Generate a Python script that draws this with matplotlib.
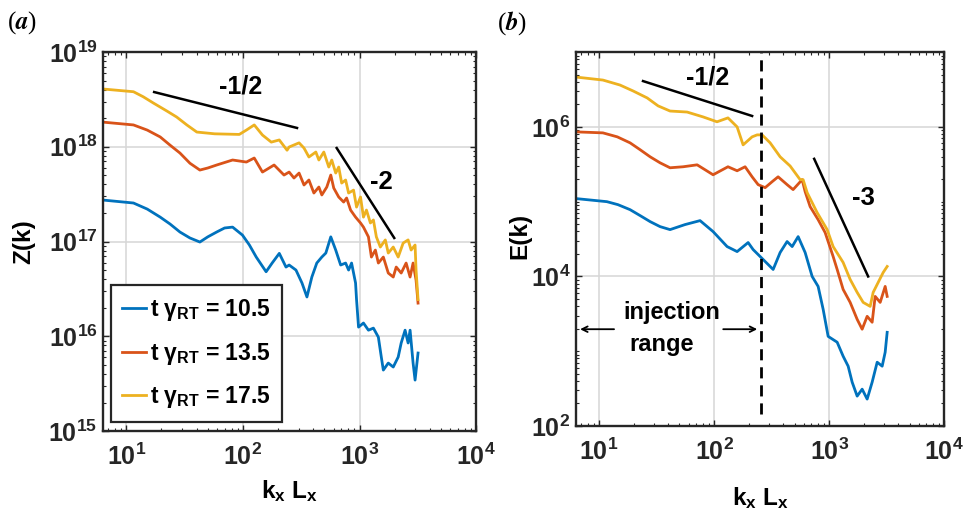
import numpy as np
import matplotlib
matplotlib.use('Agg')
import matplotlib.pyplot as plt
from matplotlib.ticker import LogLocator, FuncFormatter, NullFormatter, FixedLocator

# ---------------- data: panel (a) Z(k) ----------------
kz_105 = [6.3, 11.5, 15.1, 19.5, 23.7, 28.8, 35.1, 42.7, 49.9, 59.5, 69.6, 81.5, 99, 113.5, 130,
          158, 178, 205, 234, 249, 285, 321, 354, 390, 430, 475, 514, 567, 625, 689, 760, 806, 855,
          925, 943, 981, 1081, 1193, 1316, 1451, 1538, 1601, 1765, 1947, 2147, 2278, 2461, 2612,
          2716, 2882, 2997, 3178]
z_105 = [2.74e17, 2.55e17, 2.20e17, 1.81e17, 1.53e17, 1.26e17, 1.09e17, 9.88e16, 1.12e17, 1.26e17,
         1.39e17, 1.42e17, 1.17e17, 9.2e16, 6.86e16, 4.8e16, 5.93e16, 7.5e16, 5.38e16, 5.65e16,
         5.00e16, 3.65e16, 2.60e16, 4.22e16, 5.93e16, 6.86e16, 7.56e16, 1.12e17, 8.13e16, 5.65e16,
         5.93e16, 5.00e16, 5.93e16, 3.65e16, 2.44e16, 1.25e16, 1.38e16, 1.16e16, 1.22e16, 9.8e15,
         6.04e15, 4.40e15, 5.22e15, 4.74e15, 6.04e15, 8.5e15, 1.16e16, 8.5e15, 1.16e16, 5.22e15,
         3.45e15, 6.66e15]

kz_135 = [6.3, 11.5, 15.1, 19.5, 23.7, 28.8, 35.1, 42.7, 49.9, 59.5, 81.5, 107, 125, 147, 185,
          225, 249, 274, 303, 334, 368, 406, 448, 475, 524, 567, 601, 663, 731, 775, 838, 925, 1020,
          1081, 1193, 1265, 1368, 1451, 1601, 1765, 1947, 2065, 2278, 2512, 2716, 2882, 3056, 3178]
z_135 = [1.82e18, 1.70e18, 1.50e18, 1.27e18, 1.04e18, 8.59e17, 6.7e17, 5.68e17, 5.97e17, 6.42e17,
         7.25e17, 6.90e17, 7.61e17, 5.41e17, 6.42e17, 5.03e17, 5.41e17, 4.68e17, 5.28e17, 3.95e17,
         4.46e17, 3.25e17, 3.76e17, 3.10e17, 3.76e17, 5.03e17, 3.67e17, 2.95e17, 2.61e17, 2.88e17,
         2.15e17, 1.81e17, 1.57e17, 1.42e17, 1.12e17, 6.86e16, 8.13e16, 5.93e16, 6.86e16, 4.65e16,
         4.22e16, 5.38e16, 4.65e16, 5.93e16, 4.22e16, 5.93e16, 3.92e16, 2.24e16]

kz_175 = [6.3, 11.5, 13.95, 17, 22.3, 27, 33.0, 40.2, 57.2, 93, 107, 125, 147, 175, 205, 239, 249,
          303, 334, 368, 422, 448, 494, 545, 578, 625, 663, 703, 760, 806, 889, 943, 1020, 1081,
          1147, 1240, 1316, 1395, 1509, 1665, 1765, 1947, 2147, 2369, 2612, 2772, 2997, 3056, 3178]
z_175 = [4.07e18, 3.81e18, 3.37e18, 2.90e18, 2.38e18, 2.06e18, 1.70e18, 1.43e18, 1.37e18, 1.35e18,
         1.50e18, 1.70e18, 1.33e18, 1.12e18, 1.18e18, 9.2e17, 9.94e17, 1.10e18, 9.70e17, 7.80e17,
         8.80e17, 7.25e17, 8.80e17, 6.11e17, 7.25e17, 5.28e17, 6.11e17, 4.14e17, 4.46e17, 3.25e17,
         3.49e17, 2.31e17, 2.95e17, 1.81e17, 2.15e17, 1.57e17, 1.69e17, 1.12e17, 8.75e16, 1.04e17,
         7.56e16, 8.75e16, 6.86e16, 9.64e16, 1.04e17, 8.13e16, 9.19e16, 5.00e16, 2.44e16]

# ---------------- data: panel (b) E(k) ----------------
ke_105 = [6.3, 11.7, 14.6, 18.6, 22.8, 27.8, 33.9, 41.4, 55.9, 75.5, 98, 129.7, 158.5, 197.6,
          218.3, 251, 326, 375, 431, 477, 537.7, 618.5, 711.6, 802, 887, 980, 1174, 1323, 1463,
          1585, 1752, 1936, 2140, 2365, 2615, 2890, 3069, 3194]
e_105 = [1.10e5, 1.0e5, 9.12e4, 7.82e4, 6.5e4, 5.41e4, 4.64e4, 4.23e4, 4.94e4, 5.58e4, 3.98e4,
         2.51e4, 2.15e4, 2.84e4, 2.29e4, 1.85e4, 1.24e4, 2.09e4, 2.93e4, 2.51e4, 3.41e4, 2.09e4,
         1.0e4, 7.36e3, 3.63e3, 1.58e3, 1.32e3, 858, 631, 386, 251, 311, 229, 386, 713, 631, 970,
         1.79e3]

ke_135 = [6.3, 10.8, 14.4, 18.6, 22.8, 27.8, 33.9, 41.4, 53.8, 71.2, 98, 132, 158.5, 186, 214,
          241.4, 277.7, 319.4, 360, 431, 486, 582.5, 618.5, 683.6, 802, 923, 1083, 1174, 1323, 1523,
          1752, 1936, 2140, 2365, 2512, 2777, 3069, 3194]
e_135 = [8.58e5, 8.32e5, 7.36e5, 6.12e5, 4.94e5, 3.98e5, 3.31e5, 2.84e5, 2.93e5, 3.11e5, 2.29e5,
         2.93e5, 2.59e5, 2.93e5, 2.15e5, 1.69e5, 1.54e5, 1.85e5, 2.15e5, 1.69e5, 1.45e5, 1.97e5,
         1.36e5, 8.58e4, 5.75e4, 3.86e4, 1.85e4, 1.24e4, 6.71e3, 4.50e3, 2.67e3, 1.97e3, 2.93e3,
         2.44e3, 5.41e3, 4.50e3, 7.36e3, 5.41e3]

ke_175 = [6.3, 10.8, 15.2, 19.8, 26.2, 32.6, 41.4, 58.2, 80.2, 106, 132, 158.5, 178.7, 214, 236.6,
          261.5, 307, 375, 458, 559.5, 594, 644, 787, 961, 1083, 1323, 1523, 1752, 1976, 2273, 2413,
          2668, 2949, 3194]
e_175 = [4.64e6, 4.23e6, 3.63e6, 3.02e6, 2.44e6, 1.91e6, 1.63e6, 1.58e6, 1.36e6, 1.17e6, 1.32e6,
         1.0e6, 5.75e5, 7.36e5, 7.82e5, 7.82e5, 6.12e5, 3.98e5, 3.0e5, 1.97e5, 1.97e5, 1.32e5,
         7.13e4, 4.23e4, 2.51e4, 1.54e4, 9.12e3, 6.12e3, 4.50e3, 3.98e3, 6.12e3, 8.32e3, 1.13e4,
         1.36e4]

labels = ['10.5', '13.5', '17.5']
colors = ['#0072BD', '#D95319', '#EDB120']

# reference slope lines and annotations (data coords)
slope_a1_k = [17.3, 291];   slope_a1_z = [3.78e18, 1.58e18]
slope_a2_k = [637, 1986];   slope_a2_z = [9.7e17, 1.09e17]
slope_b1_k = [24.1, 214];   slope_b1_e = [4.1e6, 1.40e6]
slope_b2_k = [741, 2183];   slope_b2_e = [3.74e5, 1.0e4]
k_injection = 255

plt.rcParams.update({
    'font.family': ['Liberation Sans', 'DejaVu Sans'],
    'font.weight': 'bold',
    'axes.labelweight': 'bold',
    'mathtext.fontset': 'custom',
    'mathtext.rm': 'Liberation Sans:bold',
    'mathtext.it': 'Liberation Sans:bold',
    'mathtext.bf': 'Liberation Sans:bold',
    'mathtext.sf': 'Liberation Sans:bold',
    'mathtext.default': 'rm',
})

fig = plt.figure(figsize=(9.69, 5.15), dpi=100)
ax1 = fig.add_axes([0.1063, 0.163, 0.385, 0.736])
ax2 = fig.add_axes([0.5944, 0.1728, 0.380, 0.726])

spine_c = '#262626'
fmt = FuncFormatter(lambda v, p: r'$10^{%d}$' % int(round(np.log10(v))))


def style(ax, yticks):
    ax.set_xscale('log')
    ax.set_yscale('log')
    ax.xaxis.set_major_locator(FixedLocator([1e1, 1e2, 1e3, 1e4]))
    ax.yaxis.set_major_locator(FixedLocator(yticks))
    ax.xaxis.set_minor_locator(LogLocator(base=10, subs=np.arange(1, 10), numticks=60))
    ax.yaxis.set_minor_locator(LogLocator(base=10, subs=np.arange(1, 10), numticks=60))
    ax.xaxis.set_major_formatter(fmt)
    ax.yaxis.set_major_formatter(fmt)
    ax.xaxis.set_minor_formatter(NullFormatter())
    ax.yaxis.set_minor_formatter(NullFormatter())
    ax.tick_params(which='both', direction='in', top=True, right=True, colors=spine_c,
                   labelcolor='#262626')
    ax.tick_params(which='major', length=4.5, width=1.0, labelsize=18)
    ax.tick_params(which='minor', length=2.5, width=0.8)
    ax.tick_params(axis='x', which='major', pad=9)
    ax.tick_params(axis='y', which='major', pad=4)
    ax.grid(True, which='major', color='#d6d6d6', lw=1.1)
    ax.set_axisbelow(True)
    for s in ax.spines.values():
        s.set_linewidth(1.7)
        s.set_color(spine_c)


# ---- panel (a)
for k, z, lab, c in zip([kz_105, kz_135, kz_175], [z_105, z_135, z_175], labels, colors):
    ax1.plot(k, z, color=c, lw=2.0, label=r't $\gamma_{RT}$ = ' + lab)
style(ax1, [1e15, 1e16, 1e17, 1e18, 1e19])
ax1.set_xlim(6.3, 1e4)
ax1.set_ylim(1e15, 1e19)
ax1.plot(slope_a1_k, slope_a1_z, color='k', lw=1.8)
ax1.plot(slope_a2_k, slope_a2_z, color='k', lw=1.8)
ax1.text(95, 4.37e18, '-1/2', ha='center', va='center', fontsize=18)
ax1.text(1538, 4.25e17, '-2', ha='center', va='center', fontsize=18.5)
leg = ax1.legend(loc='lower left', bbox_to_anchor=(0.021, 0.024), borderaxespad=0,
                 fontsize=16.5, handlelength=1.05, handletextpad=0.15, labelspacing=0.78,
                 fancybox=False, edgecolor=spine_c, framealpha=1, borderpad=0.5)
leg.get_frame().set_linewidth(1.6)
ax1.set_xlabel(r'k$_x$ L$_x$', fontsize=17.5)
ax1.set_ylabel('Z(k)', fontsize=17.5)
ax1.xaxis.set_label_coords(0.5, -0.125)
ax1.yaxis.set_label_coords(-0.182, 0.5)

# ---- panel (b)
for k, e, c in zip([ke_105, ke_135, ke_175], [e_105, e_135, e_175], colors):
    ax2.plot(k, e, color=c, lw=2.0)
style(ax2, [1e2, 1e4, 1e6])
ax2.set_xlim(6.3, 1e4)
ax2.set_ylim(1e2, 1e7)
ax2.plot(slope_b1_k, slope_b1_e, color='k', lw=1.8)
ax2.plot(slope_b2_k, slope_b2_e, color='k', lw=1.8)
ax2.plot([k_injection, k_injection], [1.45e2, 1e7], color='k', lw=2.0, ls=(0, (4, 2.5)))
ax2.text(87, 4.6e6, '-1/2', ha='center', va='center', fontsize=18)
ax2.text(1977, 1.13e5, '-3', ha='center', va='center', fontsize=18.5)
ax2.text(43.2, 3.31e3, 'injection', ha='center', va='center', fontsize=17)
ax2.text(35.3, 1.24e3, 'range', ha='center', va='center', fontsize=17)
ax2.annotate('', xy=(6.84, 1.97e3), xytext=(13.5, 1.97e3),
             arrowprops=dict(arrowstyle='->', color='k', lw=1.3, shrinkA=0, shrinkB=0))
ax2.annotate('', xy=(237, 1.97e3), xytext=(120, 1.97e3),
             arrowprops=dict(arrowstyle='->', color='k', lw=1.3, shrinkA=0, shrinkB=0))
ax2.set_xlabel(r'k$_x$ L$_x$', fontsize=17.5)
ax2.set_ylabel('E(k)', fontsize=17.5)
ax2.xaxis.set_label_coords(0.5, -0.158)
ax2.yaxis.set_label_coords(-0.12, 0.508)

# panel labels
fig.text(7 / 969, 1 - 23 / 515, r'($\mathit{a}$)', family='Liberation Serif', math_fontfamily='stix',
         fontsize=18, fontweight='normal', va='center', ha='left')
fig.text(497 / 969, 1 - 23 / 515, r'($\mathit{b}$)', family='Liberation Serif', math_fontfamily='stix',
         fontsize=18, fontweight='normal', va='center', ha='left')

fig.savefig('out.png', dpi=100)
